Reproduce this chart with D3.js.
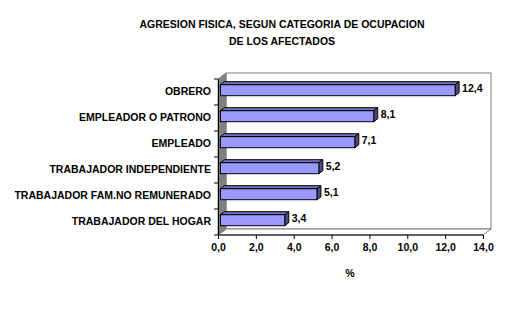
<!DOCTYPE html>
<html><head><meta charset="utf-8">
<script src="https://cdn.jsdelivr.net/npm/d3@7"></script>
<style>body{margin:0;background:#fff}svg{display:block}text{font-family:"Liberation Sans",Arial,sans-serif;font-weight:bold;fill:#000}</style>
</head><body>
<script>
const categories = ["OBRERO","EMPLEADOR O PATRONO","EMPLEADO","TRABAJADOR INDEPENDIENTE","TRABAJADOR FAM.NO REMUNERADO","TRABAJADOR DEL HOGAR"];
const values = [12.4, 8.1, 7.1, 5.2, 5.1, 3.4];
const xTicks = [0,2,4,6,8,10,12,14];
const titleLines = ["AGRESION FISICA, SEGUN CATEGORIA DE OCUPACION","DE LOS AFECTADOS"];
const xTitle = "%";

const W=514,H=325;
const svg=d3.select("body").append("svg").attr("width",W).attr("height",H);
const x0=218,x1=483,yT=79,yB=235,DX=8,DY=6;
const x=d3.scaleLinear().domain([0,14]).range([x0,x1]);
const y=d3.scaleBand().domain(categories).range([yT,yB]);
const fmt=v=>d3.format(".1f")(v).replace(".",",");
const grey="#808080";

// back wall
svg.append("rect").attr("x",x0+DX).attr("y",yT-DY).attr("width",x1-x0).attr("height",yB-yT)
  .attr("fill","#fff").attr("stroke",grey).attr("stroke-width",1);
// left wall
svg.append("polygon").attr("points",[[x0,yT],[x0+DX,yT-DY],[x0+DX,yB-DY],[x0,yB]].join(" "))
  .attr("fill",grey).attr("stroke",grey);
// floor
svg.append("polygon").attr("points",[[x0,yB],[x0+DX,yB-DY],[x1+DX,yB-DY],[x1,yB]].join(" "))
  .attr("fill","#fff").attr("stroke",grey);
svg.append("polygon").attr("points",[[x0,yB],[x0+DX,yB-DY],[x0+DX,yB-DY],[x0,yB]].join(" "))
  .attr("fill",grey).attr("stroke",grey);

// bars
const f1=0.3,f2=0.8;
const bh=11;
const g=svg.append("g");
categories.forEach((c,i)=>{
  const v=values[i];
  const cy=y(c)+y.bandwidth()/2;
  const sx=DX*f1, sy=DY*f1, ddx=DX*(f2-f1), ddy=DY*(f2-f1);
  const xl=x(0)+sx, xr=x(v)+sx, yt=cy-bh/2-sy, yb=cy+bh/2-sy;
  g.append("polygon").attr("points",[[xl,yt],[xr,yt],[xr+ddx,yt-ddy],[xl+ddx,yt-ddy]].join(" "))
    .attr("fill","#7373c0").attr("stroke","#000").attr("stroke-width",1).attr("stroke-linejoin","round");
  g.append("polygon").attr("points",[[xr,yt],[xr+ddx,yt-ddy],[xr+ddx,yb-ddy],[xr,yb]].join(" "))
    .attr("fill","#4d4d80").attr("stroke","#000").attr("stroke-width",1).attr("stroke-linejoin","round");
  g.append("rect").attr("x",xl).attr("y",yt).attr("width",xr-xl).attr("height",bh)
    .attr("fill","#9999ff").attr("stroke","#000").attr("stroke-width",1);
  svg.append("text").attr("x",xr+ddx+3).attr("y",cy-sy-ddy/2).attr("dy","0.35em")
    .attr("font-size","10.5px").text(fmt(v));
});

// y axis
const yAxis=d3.axisLeft(y).tickSize(0).tickPadding(7);
const ya=svg.append("g").attr("transform",`translate(${x0},0)`).call(yAxis);
ya.select(".domain").attr("stroke","#000");
ya.selectAll("text").attr("font-size","10.5px").style("font-family","Liberation Sans, Arial").style("font-weight","bold");
// band boundary ticks
svg.append("g").selectAll("line").data(d3.range(categories.length+1)).join("line")
  .attr("x1",x0-4).attr("x2",x0).attr("y1",i=>yT+i*y.step()).attr("y2",i=>yT+i*y.step()).attr("stroke","#000");

// x axis
const xAxis=d3.axisBottom(x).tickValues(xTicks).tickSize(4).tickPadding(5).tickFormat(fmt);
const xa=svg.append("g").attr("transform",`translate(0,${yB})`).call(xAxis);
xa.select(".domain").attr("d",`M${x0},0H${x1}`).attr("stroke","#000");
xa.selectAll("line").attr("stroke","#000");
xa.selectAll("text").attr("font-size","10.5px").style("font-family","Liberation Sans, Arial").style("font-weight","bold");

// titles
svg.append("g").selectAll("text").data(titleLines).join("text")
  .attr("x",282).attr("y",(d,i)=>28+i*17).attr("text-anchor","middle").attr("font-size","10.5px").text(d=>d);
svg.append("text").attr("x",350).attr("y",277).attr("text-anchor","middle").attr("font-size","10.5px").text(xTitle);
</script>
</body></html>
